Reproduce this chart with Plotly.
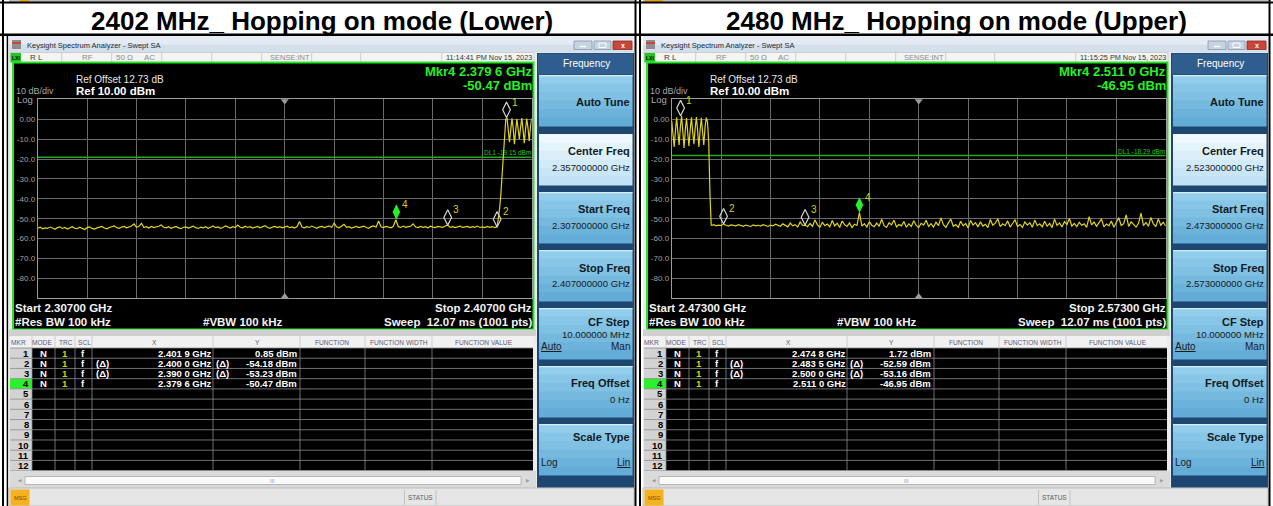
import plotly.graph_objects as go

W, H = 1273, 506
SANS = "Liberation Sans, Arial, sans-serif"
SYMB = "DejaVu Sans, sans-serif"

# ---------------- data ----------------
lower_title = "2402 MHz_ Hopping on mode (Lower)"
upper_title = "2480 MHz_ Hopping on mode (Upper)"

lower_start, lower_stop, lower_center = 2.307, 2.407, 2.357   # GHz
upper_start, upper_stop, upper_center = 2.473, 2.573, 2.523   # GHz
ref_level_dbm = 10.0
db_per_div = 10.0
ref_offset_db = 12.73
cf_step_mhz = 10.0
y_tick_vals = [0, -10, -20, -30, -40, -50, -60, -70, -80]
y_tick_text = ["0.00", "-10.0", "-20.0", "-30.0", "-40.0", "-50.0", "-60.0", "-70.0", "-80.0"]

lower_stamp = "11:14:41 PM Nov 15, 2023"
upper_stamp = "11:15:25 PM Nov 15, 2023"

# lower sweep, noise floor 2.3070 -> 2.4000 GHz, 0.5 MHz spacing
lower_floor_start, lower_floor_step = 2.3070, 0.0005
lower_floor_dbm = [
    -54.8, -54.3, -55.1, -54.6, -54.9, -54.2, -54.7, -55.3, -54.5, -54.1,
    -54.9, -54.4, -55.2, -54.6, -54.0, -54.8, -55.0, -54.3, -54.7, -55.4,
    -54.5, -54.1, -54.9, -55.2, -54.6, -54.3, -53.9, -54.7, -55.1, -54.4,
    -54.0, -53.6, -54.5, -54.8, -54.2, -53.9, -54.6, -54.1, -53.7, -52.6,
    -54.3, -53.8, -52.3, -54.4, -54.0, -54.7, -53.9, -54.5, -54.2, -53.8,
    -53.2, -54.3, -54.6, -54.0, -54.8, -54.4, -53.9, -54.6, -55.0, -54.3,
    -54.1, -54.7, -54.4, -53.8, -54.5, -54.9, -54.2, -54.6, -54.0, -54.8,
    -54.3, -53.7, -54.5, -54.1, -54.8, -54.4, -53.6, -54.2, -54.7, -54.0,
    -54.5, -53.2, -54.3, -54.6, -53.8, -54.4, -54.0, -54.7, -54.2, -53.9,
    -54.6, -54.1, -53.5, -54.4, -54.8, -54.2, -53.9, -54.5, -54.0, -54.6,
    -54.3, -53.8, -54.5, -54.1, -54.7, -53.9, -51.4, -54.2, -54.6, -54.0,
    -54.4, -53.7, -54.3, -54.8, -54.1, -53.9, -54.5, -54.2, -53.6, -54.4,
    -52.2, -54.1, -54.6, -53.8, -52.8, -54.3, -54.0, -54.7, -54.2, -53.9,
    -54.5, -54.1, -53.7, -54.4, -54.8, -54.0, -53.6, -54.3, -51.2, -54.1,
    -54.5, -53.9, -54.2, -54.6, -53.8, -50.5, -54.0, -54.4, -53.7, -54.3,
    -54.0, -53.8, -52.6, -54.2, -54.5, -53.9, -54.3, -54.0, -54.6, -53.8,
    -54.2, -54.5, -53.9, -54.1, -54.4, -53.7, -53.2, -54.3, -54.0, -54.5,
    -54.1, -53.8, -54.4, -54.2, -53.9, -54.5, -54.0, -54.3, -53.7, -54.4,
    -54.1, -54.5, -53.9, -54.3, -54.0, -54.4, -54.2,
]
# lower sweep, band edge and hopping channels 2.4000 -> 2.4070 GHz, 0.25 MHz spacing
lower_band_start, lower_band_step = 2.4000, 0.00025
lower_band_dbm = [
    -54.2, -50.0, -45.0, -38.0, -28.0, -19.0, -6.0, 0.0,
    0.8, -5.0, -11.5, -5.5, 0.4, -4.5, -12.5, -6.0,
    0.2, -5.0, -10.0, -4.0, 0.6, -5.5, -12.0, -5.0,
    0.3, -4.5, -11.0, -4.0, 0.5,
]

# upper sweep, hopping channels and band edge 2.4730 -> 2.4810 GHz, 0.25 MHz spacing
upper_band_start, upper_band_step = 2.4730, 0.00025
upper_band_dbm = [
    -0.8, -7.0, -14.0, -6.0, 0.9, -6.5, -13.0, -4.0,
    1.7, -6.0, -14.5, -5.5, 0.6, -7.0, -13.5, -5.0,
    0.9, -6.5, -12.5, -4.5, 1.1, -6.0, -14.0, -5.5,
    0.7, -6.5, -13.0, -4.0, 0.8, -1.5, -12.0, -38.0,
    -53.4,
]
# upper sweep, noise floor 2.4810 -> 2.5730 GHz, 0.5 MHz spacing
upper_floor_start, upper_floor_step = 2.4810, 0.0005
upper_floor_dbm = [
    -53.4, -53.0, -53.6, -53.2, -53.5, -52.6, -53.3, -53.7, -53.1, -53.4,
    -53.6, -53.0, -53.5, -53.8, -53.2, -53.4, -53.9, -53.1, -53.6, -53.3,
    -53.7, -53.0, -53.5, -53.9, -53.2, -53.6, -52.8, -53.4, -53.8, -52.6,
    -53.5, -54.1, -52.2, -53.6, -53.0, -54.2, -51.6, -53.4, -53.2, -54.0,
    -52.4, -53.8, -50.6, -53.1, -54.3, -51.8, -53.5, -52.7, -54.1, -50.9,
    -53.6, -52.3, -54.4, -51.2, -53.0, -53.9, -52.1, -54.5, -52.8, -53.4,
    -47.0, -53.7, -52.5, -54.2, -51.5, -53.3, -54.0, -52.2, -53.8, -50.3,
    -53.5, -54.4, -52.0, -53.1, -50.7, -54.1, -52.9, -53.6, -51.4, -54.3,
    -52.6, -53.9, -51.0, -53.4, -54.5, -52.3, -53.2, -50.8, -53.9, -52.5,
    -54.2, -51.7, -53.5, -49.6, -53.0, -54.4, -52.1, -50.2, -53.8, -52.9,
    -54.3, -51.3, -53.6, -52.4, -54.6, -50.9, -53.2, -52.0, -54.1, -51.6,
    -53.7, -52.8, -54.5, -50.4, -53.3, -52.2, -50.0, -54.0, -52.6, -53.5,
    -51.1, -54.2, -52.4, -50.5, -53.9, -52.9, -54.4, -51.6, -53.2, -52.0,
    -54.3, -50.7, -53.5, -52.6, -54.1, -51.3, -53.8, -52.3, -54.5, -50.2,
    -53.4, -52.1, -54.2, -51.5, -53.0, -49.9, -53.7, -52.4, -54.0, -51.8,
    -53.3, -52.6, -54.4, -49.0, -53.1, -51.7, -53.8, -52.2, -50.1, -54.1,
    -52.7, -53.6, -51.2, -54.3, -52.0, -49.5, -53.4, -52.5, -48.1, -53.9,
    -51.6, -53.2, -54.2, -52.3, -47.2, -53.5, -51.9, -53.8, -49.4, -52.6,
    -54.0, -50.1, -53.3, -51.8, -53.6,
]

# marker table
lower_mkr_ghz = [2.4019, 2.4000, 2.3900, 2.3796]
lower_mkr_dbm = [0.85, -54.18, -53.23, -50.47]
upper_mkr_ghz = [2.4748, 2.4835, 2.5000, 2.5110]
upper_mkr_dbm = [1.72, -52.59, -53.16, -46.95]
mkr_delta = [False, True, True, False]
active_mkr = 4

# display lines
lower_dl_dbm = -19.15
upper_dl_dbm = -18.29

# ---------------- drawing helpers ----------------
shapes, anns, traces = [], [], []
layout_axes = {}


def X(x):
    return x / W


def Y(y):
    return 1 - y / H


def rect(x0, y0, x1, y1, fill, line=None, lw=1.0, layer="below"):
    shapes.append(dict(type="rect", xref="paper", yref="paper",
                       x0=X(x0), x1=X(x1), y0=Y(y1), y1=Y(y0),
                       fillcolor=fill, layer=layer,
                       line=dict(color=line if line else fill, width=lw if line else 0)))


def seg(x0, y0, x1, y1, color, lw=1.0, layer="below"):
    shapes.append(dict(type="line", xref="paper", yref="paper",
                       x0=X(x0), x1=X(x1), y0=Y(y0), y1=Y(y1),
                       line=dict(color=color, width=lw), layer=layer))


def txt(x, y, s, size=9, color="#000000", bold=False, anchor="left", family=SANS, under=False):
    font = dict(size=size, color=color, family=family, weight="bold" if bold else "normal")
    if under:
        font["lineposition"] = "under"
    anns.append(dict(x=X(x), y=Y(y), xref="paper", yref="paper", text=s, showarrow=False,
                     xanchor=anchor, yanchor="middle", font=font, borderpad=0, borderwidth=0))


def mix(c0, c1, t):
    a = [int(c0[i:i + 2], 16) for i in (1, 3, 5)]
    b = [int(c1[i:i + 2], 16) for i in (1, 3, 5)]
    return "#" + "".join(f"{round(p + (q - p) * t):02x}" for p, q in zip(a, b))


def gradient(x0, y0, x1, y1, c0, c1, n=6):
    h = (y1 - y0) / n
    for k in range(n):
        rect(x0, y0 + k * h, x1, y0 + (k + 1) * h + 0.4, mix(c0, c1, k / (n - 1)))


def ghz_split(v):
    s = f"{v:.4f}"
    return f"{s[:-1]} {s[-1]} GHz"


# plot grid geometry (pixels)
GX0, GX1 = 37.7, 531.7
GY0, GY1 = 99.3, 298.3
DIAMOND = 11
PX_PER_DB = (GY1 - GY0) / (db_per_div * 10)
DIAMOND_LIFT = 0.7 * DIAMOND / PX_PER_DB

YEL = "#e0d41c"
GRN = "#27f027"
GRID = "#6a6a6a"
FRAME = "#9c9c9c"


def draw_panel(dx, idx, title, start, stop, center, stamp,
               floor_start, floor_step, floor_dbm, band_start, band_step, band_dbm,
               mkr_ghz, mkr_dbm, dl_dbm):
    xa = "x" if idx == 1 else f"x{idx}"
    ya = "y" if idx == 1 else f"y{idx}"
    bottom = ref_level_dbm - 10 * db_per_div

    # heading above the screenshot
    txt(322 + dx, 21.5, title, 26, "#000000", bold=True, anchor="center")

    # window chrome
    rect(9 + dx, 36, 634 + dx, 506, "#ececec")
    rect(9 + dx, 36.5, 634 + dx, 44.5, "#e4ebf4")
    rect(9 + dx, 44.5, 634 + dx, 52.5, "#d3dfeb")
    rect(12 + dx, 40, 21 + dx, 49, "#8e8e8e")
    rect(12 + dx, 42, 21 + dx, 44, "#c8463a")
    txt(27 + dx, 45, "Keysight Spectrum Analyzer - Swept SA", 7.5, "#1e2a3c")
    rect(574 + dx, 41, 592 + dx, 49.5, "#c6d3e2", line="#8797ab", lw=0.8)
    seg(580 + dx, 46.5, 586 + dx, 46.5, "#ffffff", 1.5)
    rect(594 + dx, 41, 611 + dx, 49.5, "#c6d3e2", line="#8797ab", lw=0.8)
    rect(599 + dx, 43, 606 + dx, 47.5, "#c6d3e2", line="#ffffff", lw=1)
    rect(613 + dx, 41, 632 + dx, 49.5, "#c8463a", line="#8e2a20", lw=0.8)
    txt(622.5 + dx, 45, "x", 7, "#ffffff", bold=True, anchor="center")

    # settings bar
    rect(10 + dx, 52.5, 534 + dx, 62.5, "#f4f4f4", line="#c4c4c4", lw=0.8)
    rect(10.5 + dx, 53, 21 + dx, 62, "#27c427")
    txt(15.8 + dx, 57.6, "LXI", 5, "#000000", bold=True, anchor="center")
    for c in [61.7, 111.7, 161.7, 211.7, 261.7, 311.7, 360.7, 441.7]:
        seg(c + dx, 53, c + dx, 62, "#c4c4c4", 0.8)
    txt(30 + dx, 57.6, "R L", 8, "#3a3a3a")
    txt(82 + dx, 57.6, "RF", 8, "#8a8a8a")
    txt(116 + dx, 57.6, "50 Ω", 8, "#8a8a8a")
    txt(144 + dx, 57.6, "AC", 8, "#8a8a8a")
    txt(309.5 + dx, 57.6, "SENSE:INT", 7.5, "#8a8a8a", anchor="right")
    txt(531.5 + dx, 57.6, stamp, 7.3, "#333333", anchor="right")

    # graticule area
    rect(13 + dx, 62.5, 533.5 + dx, 329.5, "#000000", line="#22e622", lw=2)
    txt(76 + dx, 80, f"Ref Offset {ref_offset_db:.2f} dB", 10, "#e6e6e6")
    txt(76 + dx, 91, f"Ref {ref_level_dbm:.2f} dBm", 11.5, "#ffffff", bold=True)
    txt(16 + dx, 91.5, f"{db_per_div:.0f} dB/div", 9, "#a8a8a8")
    txt(16.5 + dx, 100, "Log", 9.5, "#a8a8a8")
    act = active_mkr - 1
    txt(532 + dx, 71.8, f"Mkr{active_mkr} {ghz_split(mkr_ghz[act])}", 13, GRN, bold=True, anchor="right")
    txt(532 + dx, 85, f"{mkr_dbm[act]:.2f} dBm", 13, GRN, bold=True, anchor="right")
    txt(15 + dx, 307.5, f"Start {start:.5f} GHz", 11.5, "#f2f2f2", bold=True)
    txt(15 + dx, 321.5, "#Res BW 100 kHz", 11.5, "#f2f2f2", bold=True)
    txt(203 + dx, 321.5, "#VBW 100 kHz", 11.5, "#f2f2f2", bold=True)
    txt(532 + dx, 307.5, f"Stop {stop:.5f} GHz", 11.5, "#f2f2f2", bold=True, anchor="right")
    txt(532 + dx, 321.5, "Sweep\u00a0 12.07 ms (1001 pts)", 11.5, "#f2f2f2", bold=True, anchor="right")

    # axes
    layout_axes["xaxis" if idx == 1 else f"xaxis{idx}"] = dict(
        domain=[X(GX0 + dx), X(GX1 + dx)], range=[start, stop], tick0=start, dtick=0.01,
        showgrid=True, gridcolor=GRID, gridwidth=1, zeroline=False, showticklabels=False,
        ticks="", showline=True, linecolor=FRAME, linewidth=1, mirror=True,
        anchor=ya, fixedrange=True)
    layout_axes["yaxis" if idx == 1 else f"yaxis{idx}"] = dict(
        domain=[Y(GY1), Y(GY0)], range=[bottom, ref_level_dbm],
        tickvals=y_tick_vals, ticktext=y_tick_text,
        tickfont=dict(size=8, color="#a0a0a0", family=SANS),
        showgrid=True, gridcolor=GRID, gridwidth=1, zeroline=False, ticks="",
        showline=True, linecolor=FRAME, linewidth=1, mirror=True,
        anchor=xa, fixedrange=True)

    # display line
    traces.append(go.Scatter(x=[start, stop], y=[dl_dbm, dl_dbm], mode="lines",
                             line=dict(color="#22a822", width=1.5), xaxis=xa, yaxis=ya,
                             hoverinfo="skip", showlegend=False))
    anns.append(dict(x=stop, y=dl_dbm, xref=xa, yref=ya, text=f"DL1 {dl_dbm:.2f} dBm",
                     showarrow=False, xanchor="right", yanchor="bottom", xshift=-1, yshift=1,
                     font=dict(size=6.5, color="#22c822", family=SANS), borderpad=0, borderwidth=0))

    # trace 1
    common = dict(mode="lines", line=dict(color=YEL, width=1.2), xaxis=xa, yaxis=ya,
                  hoverinfo="skip", showlegend=False)
    if floor_start < band_start:
        traces.append(go.Scatter(x0=floor_start, dx=floor_step, y=floor_dbm, **common))
        traces.append(go.Scatter(x0=band_start, dx=band_step, y=band_dbm, **common))
    else:
        traces.append(go.Scatter(x0=band_start, dx=band_step, y=band_dbm, **common))
        traces.append(go.Scatter(x0=floor_start, dx=floor_step, y=floor_dbm, **common))

    # center frequency indicators
    traces.append(go.Scatter(x=[center, center], y=[ref_level_dbm - 0.9, bottom + 0.9],
                             mode="markers", xaxis=xa, yaxis=ya, hoverinfo="skip",
                             showlegend=False, cliponaxis=False,
                             marker=dict(symbol=["triangle-down", "triangle-up"], size=7,
                                         color="#9a9a9a")))

    # markers
    for i, (g, v) in enumerate(zip(mkr_ghz, mkr_dbm)):
        is_act = (i + 1) == active_mkr
        traces.append(go.Scatter(
            x=[g], y=[v + DIAMOND_LIFT], mode="markers", xaxis=xa, yaxis=ya,
            hoverinfo="skip", showlegend=False, cliponaxis=False,
            marker=dict(symbol="diamond-tall" if is_act else "diamond-tall-open", size=DIAMOND,
                        color=GRN if is_act else "#d4d4d4",
                        line=dict(width=0 if is_act else 1.2, color="#d4d4d4"))))
        anns.append(dict(x=g, y=v, xref=xa, yref=ya, text=str(i + 1), showarrow=False,
                         xanchor="center", yanchor="middle", xshift=8.5, yshift=15.5,
                         font=dict(size=10, color="#d9cf12", family=SANS), borderpad=0,
                         borderwidth=0))

    # marker table
    rh = 10.22
    hy0, hy1 = 336, 348
    ry1 = hy1 + 12 * rh
    tx0, tx1 = 10 + dx, 533 + dx
    cols = [32, 55, 75, 92, 213, 300, 365, 432]
    rect(9 + dx, 329.5, 536 + dx, 336, "#d0d0d0")
    rect(tx0, hy0, tx1, hy1, "#f1f1f1")
    rect(tx0, hy1, 32 + dx, ry1, "#d3d3d3")
    rect(32 + dx, hy1, tx1, ry1, "#000000")
    rect(tx0, hy1 + act * rh, 32 + dx, hy1 + (act + 1) * rh, "#2cf02c")
    for i in range(13):
        seg(tx0, hy1 + i * rh, tx1, hy1 + i * rh, "#8c8c8c", 0.8)
    for c in cols:
        seg(c + dx, hy0, c + dx, hy1, "#c8c8c8", 0.8)
        seg(c + dx, hy1, c + dx, ry1, "#8c8c8c", 0.8)
    hdr_col = "#5a5a7a"
    for cx, lab in [(18, "MKR"), (42, "MODE"), (66, "TRC"), (84, "SCL"), (154, "X"),
                    (257, "Y"), (332, "FUNCTION"), (399, "FUNCTION WIDTH"),
                    (484, "FUNCTION VALUE")]:
        txt(cx + dx, 342, lab, 6.6, hdr_col, anchor="center")
    for i in range(12):
        txt(28.5 + dx, hy1 + (i + 0.5) * rh, str(i + 1), 9.5, "#000000", bold=True, anchor="right")
    for i, (g, v, d) in enumerate(zip(mkr_ghz, mkr_dbm, mkr_delta)):
        yc = hy1 + (i + 0.5) * rh
        txt(43.5 + dx, yc, "N", 9.5, "#ffffff", bold=True, anchor="center")
        txt(65 + dx, yc, "1", 9.5, "#d8d000", bold=True, anchor="center")
        txt(83 + dx, yc, "f", 9.5, "#ffffff", bold=True, anchor="center")
        if d:
            txt(95.5 + dx, yc, "(Δ)", 9.5, "#ffffff", bold=True)
            txt(216 + dx, yc, "(Δ)", 9.5, "#ffffff", bold=True)
        txt(211.5 + dx, yc, ghz_split(g), 9.5, "#ffffff", bold=True, anchor="right")
        txt(297 + dx, yc, f"{v:.2f} dBm", 9.5, "#ffffff", bold=True, anchor="right")

    # scroll bar
    rect(tx0, ry1, 536 + dx, 488, "#dadada")
    rect(25 + dx, 476.5, 521 + dx, 484.5, "#fafafa", line="#a8a8a8", lw=0.8)
    txt(19.5 + dx, 480.5, "◀", 4.5, "#9a9a9a", anchor="center", family=SYMB)
    txt(527.5 + dx, 480.5, "▶", 4.5, "#9a9a9a", anchor="center", family=SYMB)
    txt(272 + dx, 480.5, "III", 5.5, "#a0a0a0", anchor="center")

    # status bar
    rect(9 + dx, 488, 634 + dx, 506, "#e6e6e6", line="#b4b4b4", lw=0.8)
    rect(10.5 + dx, 489.5, 29.5 + dx, 505.5, "#f4b31e")
    txt(20 + dx, 497.5, "MSG", 5.5, "#7a4a00", anchor="center")
    seg(404.5 + dx, 490, 404.5 + dx, 505, "#c0c0c0", 1)
    seg(436 + dx, 490, 436 + dx, 505, "#c0c0c0", 1)
    txt(420.3 + dx, 497.5, "STATUS", 6.5, "#5a5a5a", anchor="center")

    # softkey menu
    kx0, kx1 = 537 + dx, 634 + dx
    rect(kx0, 53, kx1, 487.5, "#1d4671")
    rect(kx0 + 1, 53.5, kx1 - 1, 74.5, "#2f5d8d")
    txt(586 + dx, 64, "Frequency", 10, "#ffffff", anchor="center")
    rx = 629.8 + dx
    lx = 541 + dx
    keys = [
        (75, False, [("Auto Tune", 27, "t", "r")]),
        (134, True, [("Center Freq", 17.5, "t", "r"), (f"{center:.9f} GHz", 33, "v", "r")]),
        (192, False, [("Start Freq", 17.5, "t", "r"), (f"{start:.9f} GHz", 33, "v", "r")]),
        (250, False, [("Stop Freq", 17.5, "t", "r"), (f"{stop:.9f} GHz", 33, "v", "r")]),
        (308, False, [("CF Step", 13.5, "t", "r"), (f"{cf_step_mhz:.6f} MHz", 26, "v", "r"),
                      ("Auto", 38, "u", "l"), ("Man", 38, "o", "r")]),
        (366, False, [("Freq Offset", 17, "t", "r"), ("0 Hz", 33, "v", "r")]),
        (424, False, [("Scale Type", 13, "t", "r"), ("Log", 38, "o", "l"), ("Lin", 38, "u", "r")]),
    ]
    for top, hi, labels in keys:
        if hi:
            gradient(539 + dx, top, 632.5 + dx, top + 51, "#eef8fd", "#c0e2f4")
        else:
            gradient(539 + dx, top, 632.5 + dx, top + 51, "#92cdeb", "#62acd7")
            seg(539 + dx, top + 0.6, 632.5 + dx, top + 0.6, "#d4edf8", 1.2)
        for s, dy, kind, side in labels:
            xx = rx if side == "r" else lx
            anc = "right" if side == "r" else "left"
            if kind == "t":
                txt(xx, top + dy, s, 11, "#121a22", bold=True, anchor=anc)
            elif kind == "v":
                txt(xx, top + dy, s, 9.6, "#1a1a1a", anchor=anc)
            else:
                txt(xx, top + dy, s, 10, "#1a1a1a", anchor=anc, under=(kind == "u"))


draw_panel(0, 1, lower_title, lower_start, lower_stop, lower_center, lower_stamp,
           lower_floor_start, lower_floor_step, lower_floor_dbm,
           lower_band_start, lower_band_step, lower_band_dbm,
           lower_mkr_ghz, lower_mkr_dbm, lower_dl_dbm)
draw_panel(634, 2, upper_title, upper_start, upper_stop, upper_center, upper_stamp,
           upper_floor_start, upper_floor_step, upper_floor_dbm,
           upper_band_start, upper_band_step, upper_band_dbm,
           upper_mkr_ghz, upper_mkr_dbm, upper_dl_dbm)

# frame of the two-column layout
rect(9, 0, 634, 2, "#bcbcbc")
rect(643, 0, 1268, 2, "#bcbcbc")
rect(20, 0, 29, 2, "#e0a020")
rect(645, 0, 663, 2, "#e0a020")
seg(0, 2.6, W, 2.6, "#000000", 2, layer="above")
seg(0, 34.8, W, 34.8, "#000000", 2.6, layer="above")
seg(3, 0, 3, H, "#000000", 2, layer="above")
seg(7.4, 34.8, 7.4, H, "#000000", 1.5, layer="above")
seg(635.5, 0, 635.5, H, "#000000", 2, layer="above")
seg(640, 0, 640, H, "#000000", 2, layer="above")
seg(1269.5, 0, 1269.5, H, "#000000", 2, layer="above")

fig = go.Figure(data=traces)
fig.update_layout(
    width=W, height=H, autosize=False,
    margin=dict(l=0, r=0, t=0, b=0, pad=0),
    paper_bgcolor="#ffffff", plot_bgcolor="#000000",
    showlegend=False, hovermode=False,
    shapes=shapes, annotations=anns,
    **layout_axes,
)
fig.write_html("out.html", config={"displayModeBar": False})
